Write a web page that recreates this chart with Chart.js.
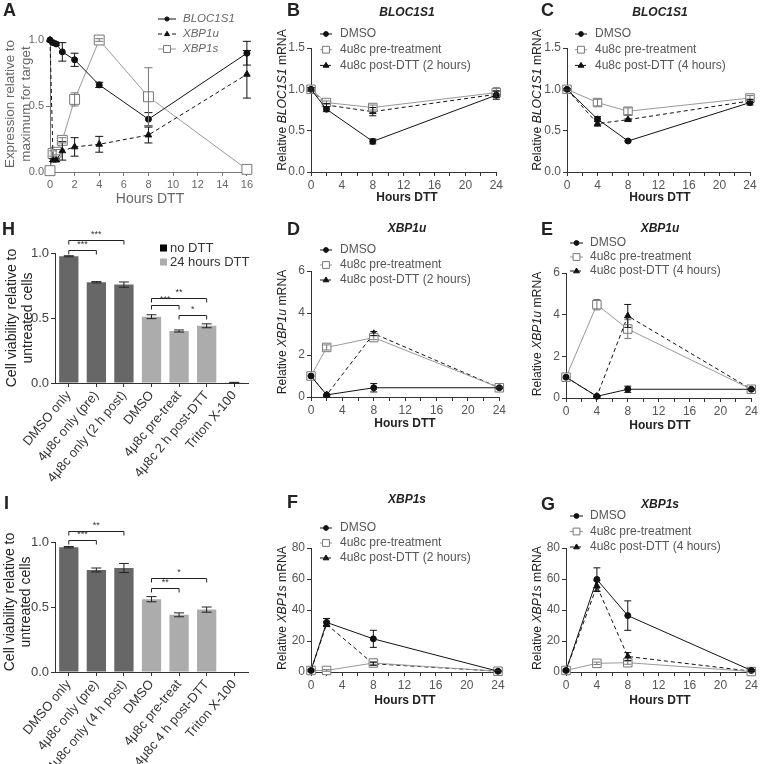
<!DOCTYPE html>
<html>
<head>
<meta charset="utf-8">
<script src="https://cdn.jsdelivr.net/npm/chart.js@4.4.0/dist/chart.umd.min.js"></script>
<style>
body{margin:0;background:#fff;font-family:"Liberation Sans",Arial,sans-serif;}
#fig{position:relative;width:760px;height:764px;overflow:hidden;}
canvas{position:absolute;}
.t{position:absolute;white-space:nowrap;color:#222;line-height:1;}
.lt{font-weight:bold;font-size:18px;}
.ttl{font-weight:bold;font-style:italic;font-size:12px;transform:translate(-50%,-50%);}
.xt{font-weight:bold;font-size:12px;transform:translate(-50%,-50%);}
.yt{font-size:12.2px;transform:translate(-50%,-50%) rotate(-90deg);}
</style>
</head>
<body>
<div id="fig">
  <canvas id="cA"></canvas><canvas id="cB"></canvas><canvas id="cC"></canvas>
  <canvas id="cH"></canvas><canvas id="cD"></canvas><canvas id="cE"></canvas>
  <canvas id="cI"></canvas><canvas id="cF"></canvas><canvas id="cG"></canvas>

  <div class="t lt" style="left:3px;top:1px">A</div>
  <div class="t lt" style="left:287px;top:1px">B</div>
  <div class="t lt" style="left:541px;top:1px">C</div>
  <div class="t lt" style="left:2px;top:220px">H</div>
  <div class="t lt" style="left:287px;top:220px">D</div>
  <div class="t lt" style="left:541px;top:220px">E</div>
  <div class="t lt" style="left:4px;top:494px">I</div>
  <div class="t lt" style="left:287px;top:493px">F</div>
  <div class="t lt" style="left:541px;top:495px">G</div>

  <div class="t ttl" style="left:407px;top:12px">BLOC1S1</div>
  <div class="t ttl" style="left:660px;top:12px">BLOC1S1</div>
  <div class="t ttl" style="left:407px;top:228px">XBP1u</div>
  <div class="t ttl" style="left:660px;top:228px">XBP1u</div>
  <div class="t ttl" style="left:407px;top:499px">XBP1s</div>
  <div class="t ttl" style="left:660px;top:504px">XBP1s</div>

  <div class="t" style="left:150px;top:198px;transform:translate(-50%,-50%);font-size:14px;color:#666">Hours DTT</div>
  <div class="t xt" style="left:407px;top:197px">Hours DTT</div>
  <div class="t xt" style="left:660px;top:197px">Hours DTT</div>
  <div class="t xt" style="left:405px;top:423px">Hours DTT</div>
  <div class="t xt" style="left:660px;top:425px">Hours DTT</div>
  <div class="t xt" style="left:405px;top:700px">Hours DTT</div>
  <div class="t xt" style="left:660px;top:700px">Hours DTT</div>

  <div class="t" style="left:18px;top:104px;transform:translate(-50%,-50%) rotate(-90deg);font-size:13.4px;color:#666;text-align:center;line-height:1.2">Expression relative to<br>maximum for target</div>
  <div class="t yt" style="left:282px;top:100px">Relative <i>BLOC1S1</i> mRNA</div>
  <div class="t yt" style="left:537px;top:100px">Relative <i>BLOC1S1</i> mRNA</div>
  <div class="t yt" style="left:282px;top:332px">Relative <i>XBP1u</i> mRNA</div>
  <div class="t yt" style="left:537px;top:334px">Relative <i>XBP1u</i> mRNA</div>
  <div class="t yt" style="left:282px;top:608px">Relative <i>XBP1s</i> mRNA</div>
  <div class="t yt" style="left:537px;top:608px">Relative <i>XBP1s</i> mRNA</div>
  <div class="t" style="left:19px;top:318px;transform:translate(-50%,-50%) rotate(-90deg);font-size:14px;text-align:center;line-height:1.15">Cell viability relative to<br>untreated cells</div>
  <div class="t" style="left:17px;top:602px;transform:translate(-50%,-50%) rotate(-90deg);font-size:14px;text-align:center;line-height:1.15">Cell viability relative to<br>untreated cells</div>
</div>

<script>
// ---------- data ----------
const hoursA = [0, 0.25, 0.5, 1, 2, 4, 8, 16];
const blocA = [1.0, 0.98, 0.97, 0.91, 0.85, 0.66, 0.40, 0.90];
const blocAErr = [0, 0.01, 0.01, 0.07, 0.05, 0.02, 0.05, 0.09];
const xbp1uA = [1.0, 0.09, 0.09, 0.16, 0.19, 0.21, 0.28, 0.74];
const xbp1uAErr = [0, 0.01, 0.01, 0.07, 0.07, 0.06, 0.06, 0.18];
const xbp1sA = [0.01, 0.14, 0.15, 0.24, 0.55, 1.0, 0.57, 0.02];
const xbp1sAErr = [0, 0.02, 0.02, 0.02, 0.05, 0.01, 0.22, 0];

const hours2 = [0, 2, 8, 24];
const hours4 = [0, 4, 8, 24];

const bDmso = [1.0, 0.76, 0.37, 0.93], bDmsoErr = [0.02, 0.03, 0.03, 0.05];
const bPre = [1.0, 0.84, 0.78, 0.96], bPreErr = [0.02, 0.02, 0.03, 0.06];
const bPost = [1.0, 0.81, 0.73, 0.94], bPostErr = [0.02, 0.02, 0.05, 0.04];

const cDmso = [1.0, 0.64, 0.375, 0.84], cDmsoErr = [0.01, 0.03, 0.01, 0.03];
const cPre = [1.0, 0.84, 0.735, 0.895], cPreErr = [0.01, 0.04, 0.04, 0.03];
const cPost = [1.0, 0.585, 0.633, 0.86], cPostErr = [0.01, 0.03, 0.01, 0.02];

const dDmso = [1.0, 0.1, 0.44, 0.44], dDmsoErr = [0, 0.02, 0.2, 0.03];
const dPre = [1.0, 2.36, 2.83, 0.44], dPreErr = [0, 0.12, 0.1, 0.03];
const dPost = [1.0, 0.1, 3.02, 0.44], dPostErr = [0, 0.02, 0.1, 0.03];

const eDmso = [1.0, 0.08, 0.42, 0.42], eDmsoErr = [0, 0.02, 0.15, 0.03];
const ePre = [1.0, 4.48, 3.31, 0.42], ePreErr = [0, 0.25, 0.45, 0.03];
const ePost = [1.0, 0.08, 3.94, 0.42], ePostErr = [0, 0.02, 0.55, 0.03];

const fDmso = [1, 32, 21.4, 0.5], fDmsoErr = [0.5, 2.5, 5.5, 0.5];
const fPre = [1, 1, 5.8, 0.5], fPreErr = [0, 0.5, 0.8, 0.2];
const fPost = [1, 30.8, 5.3, 0.5], fPostErr = [0, 1.5, 1, 0.2];

const gDmso = [1, 59.7, 36.4, 1], gDmsoErr = [0.5, 7.5, 9.5, 0.5];
const gPre = [1, 5.6, 6, 0.3], gPreErr = [0, 0.8, 1.0, 0.2];
const gPost = [1, 55.4, 10, 0.5], gPostErr = [0, 3.5, 2.5, 0.2];

const labelsH = ['DMSO only', '4\u03bc8c only (pre)', '4\u03bc8c only (2 h post)', 'DMSO', '4\u03bc8c pre-treat', '4\u03bc8c 2 h post-DTT', 'Triton X-100'];
const viabH = [0.975, 0.775, 0.757, 0.51, 0.40, 0.44, 0.003];
const viabHErr = [0.004, 0.005, 0.02, 0.015, 0.008, 0.015, 0.002];
const sigH = [
  {from: 0, to: 2, y: 1.10, label: '***'}, {from: 0, to: 1, y: 1.025, label: '***'},
  {from: 3, to: 5, y: 0.655, label: '**'}, {from: 3, to: 4, y: 0.60, label: '***'},
  {from: 4, to: 5, y: 0.525, label: '*'}
];

const labelsI = ['DMSO only', '4\u03bc8c only (pre)', '4\u03bc8c only (4 h post)', 'DMSO', '4\u03bc8c pre-treat', '4\u03bc8c 4 h post-DTT', 'Triton X-100'];
const viabI = [0.96, 0.785, 0.80, 0.56, 0.44, 0.48, 0];
const viabIErr = [0.005, 0.015, 0.035, 0.02, 0.015, 0.02, 0];
const sigI = [
  {from: 0, to: 2, y: 1.085, label: '**'}, {from: 0, to: 1, y: 1.015, label: '***'},
  {from: 3, to: 5, y: 0.72, label: '*'}, {from: 3, to: 4, y: 0.65, label: '**'}
];

const barColors = ['#676767', '#676767', '#676767', '#acacac', '#acacac', '#acacac', '#676767'];

Chart.defaults.font.family = "'Liberation Sans', Arial, sans-serif";

// ---------- plugins ----------
function marker(ctx, style, r, x, y) {
  ctx.beginPath();
  if (style === 'circle') {
    ctx.arc(x, y, r, 0, Math.PI * 2);
  } else if (style === 'rect') {
    const s = r * Math.SQRT1_2;
    ctx.rect(x - s, y - s, 2 * s, 2 * s);
  } else {
    ctx.moveTo(x, y - r);
    ctx.lineTo(x + r * 0.95, y + r * 0.6);
    ctx.lineTo(x - r * 0.95, y + r * 0.6);
    ctx.closePath();
  }
  ctx.fill();
  ctx.stroke();
}

const errorBars = {
  id: 'errorBars',
  afterDatasetsDraw(chart) {
    const ctx = chart.ctx, ys = chart.scales.y;
    chart.data.datasets.forEach((ds, di) => {
      if (!ds.errors) return;
      const meta = chart.getDatasetMeta(di);
      ctx.save();
      ctx.strokeStyle = ds.errColor || ds.borderColor;
      ctx.lineWidth = 1;
      meta.data.forEach((el, i) => {
        const e = ds.errors[i];
        if (!e) return;
        const v = typeof ds.data[i] === 'object' ? ds.data[i].y : ds.data[i];
        const x = el.x, y1 = ys.getPixelForValue(v + e), y2 = ys.getPixelForValue(v - e);
        const w = ds.cap || 3.5;
        ctx.beginPath();
        ctx.moveTo(x, y1); ctx.lineTo(x, y2);
        ctx.moveTo(x - w, y1); ctx.lineTo(x + w, y1);
        ctx.moveTo(x - w, y2); ctx.lineTo(x + w, y2);
        ctx.stroke();
      });
      ctx.restore();
    });
  }
};

const sideLegend = {
  id: 'sideLegend',
  afterDraw(chart, args, o) {
    if (!o || o.x === undefined) return;
    const ctx = chart.ctx;
    ctx.save();
    ctx.font = (o.italic ? 'italic ' : '') + o.size + "px 'Liberation Sans', Arial, sans-serif";
    ctx.textBaseline = 'middle';
    chart.data.datasets.forEach((ds, i) => {
      const y = o.y + i * o.dy;
      ctx.strokeStyle = ds.borderColor;
      ctx.lineWidth = 1;
      ctx.setLineDash(ds.borderDash || []);
      ctx.beginPath(); ctx.moveTo(o.x, y); ctx.lineTo(o.x + o.len, y); ctx.stroke();
      ctx.setLineDash([]);
      ctx.fillStyle = ds.pointBackgroundColor;
      ctx.strokeStyle = ds.pointBorderColor;
      marker(ctx, ds.pointStyle, ds.pointRadius * (o.scale || 0.8), o.x + o.len / 2, y);
      ctx.fillStyle = o.color || '#555';
      ctx.fillText(ds.label, o.x + o.len + o.gap, y);
    });
    ctx.restore();
  }
};

const sigBrackets = {
  id: 'sigBrackets',
  afterDraw(chart, args, o) {
    if (!o || !o.items) return;
    const ctx = chart.ctx, xs = chart.scales.x, ys = chart.scales.y;
    ctx.save();
    ctx.strokeStyle = '#222';
    ctx.fillStyle = '#333';
    ctx.lineWidth = 1;
    ctx.font = "9px 'Liberation Sans', Arial, sans-serif";
    ctx.textAlign = 'center';
    ctx.textBaseline = 'bottom';
    o.items.forEach(b => {
      const x1 = xs.getPixelForValue(b.from), x2 = xs.getPixelForValue(b.to);
      const y = Math.round(ys.getPixelForValue(b.y)) + 0.5;
      ctx.beginPath();
      ctx.moveTo(x1, y + 4); ctx.lineTo(x1, y); ctx.lineTo(x2, y); ctx.lineTo(x2, y + 4);
      ctx.stroke();
      ctx.fillText(b.label, (x1 + x2) / 2, y - 1);
    });
    ctx.restore();
  }
};

const barLegend = {
  id: 'barLegend',
  afterDraw(chart, args, o) {
    if (!o || o.x === undefined) return;
    const ctx = chart.ctx;
    ctx.save();
    ctx.font = "13px 'Liberation Sans', Arial, sans-serif";
    ctx.textBaseline = 'middle';
    o.names.forEach((n, i) => {
      const y = o.y + i * o.dy;
      ctx.fillStyle = o.colors[i];
      ctx.fillRect(o.x, y - 3.5, 7, 7);
      ctx.fillStyle = '#333';
      ctx.fillText(n, o.x + 10, y);
    });
    ctx.restore();
  }
};

// ---------- helpers ----------
function place(id, box) {
  const cv = document.getElementById(id);
  cv.width = box.w; cv.height = box.h;
  cv.style.left = box.x + 'px'; cv.style.top = box.y + 'px';
  return cv;
}

function pts(xs, ys) { return xs.map((x, i) => ({x: x, y: ys[i]})); }

const dmsoStyle = {borderColor: '#111', pointBackgroundColor: '#111', pointBorderColor: '#111', pointStyle: 'circle', pointRadius: 3};
const preStyle = {borderColor: '#999', pointBackgroundColor: '#fff', pointBorderColor: '#777', pointStyle: 'rect', pointRadius: 6, errColor: '#777'};
const postStyle = {borderColor: '#111', borderDash: [4, 3], pointBackgroundColor: '#111', pointBorderColor: '#111', pointStyle: 'triangle', pointRadius: 3.8};

function ds(label, style, xs, ys, errs, extra) {
  return Object.assign({label: label, data: pts(xs, ys), errors: errs, borderWidth: 1, pointBorderWidth: 1,
    tension: 0, clip: false}, style, extra || {});
}

function linePanel(id, box, area, sets, sc, leg) {
  const XH = 22;
  const axisCol = sc.axisCol || '#333';
  new Chart(place(id, box), {
    type: 'line',
    data: {datasets: sets},
    options: {
      responsive: false, animation: false,
      layout: {padding: {top: area.t - box.y, right: box.x + box.w - area.r, bottom: box.y + box.h - area.b - XH, left: 0}},
      plugins: {legend: {display: false}, tooltip: {enabled: false}, sideLegend: leg},
      scales: {
        x: {
          type: 'linear', min: 0, max: sc.xmax,
          afterFit: s => { s.height = XH; },
          grid: {drawOnChartArea: false, tickLength: 4, color: axisCol},
          border: {color: axisCol},
          ticks: {stepSize: 2, autoSkip: false, maxRotation: 0, padding: 2, color: sc.tickCol || '#555', font: {size: sc.tickSize || 12},
            callback: v => (sc.every2 || v % 4 === 0) ? v : ''}
        },
        y: {
          min: 0, max: sc.ymax,
          afterFit: s => { s.width = area.l - box.x; },
          grid: {drawOnChartArea: false, tickLength: 4, color: axisCol},
          border: {color: axisCol},
          ticks: {stepSize: sc.ystep, padding: 2, color: sc.tickCol || '#555', font: {size: sc.tickSize || 12},
            callback: v => sc.dec ? v.toFixed(1) : v}
        }
      }
    },
    plugins: [errorBars, sideLegend]
  });
}

function barPanel(id, box, area, labels, vals, errs, sig, leg) {
  const XH = box.y + box.h - area.b;
  new Chart(place(id, box), {
    type: 'bar',
    data: {labels: labels, datasets: [{data: vals, errors: errs, backgroundColor: barColors, borderColor: '#222',
      borderWidth: 0, barPercentage: 0.7, categoryPercentage: 1, cap: 5, errColor: '#222'}]},
    options: {
      responsive: false, animation: false,
      layout: {padding: {top: area.t - box.y, right: box.x + box.w - area.r, bottom: 0, left: 0}},
      plugins: {legend: {display: false}, tooltip: {enabled: false}, sigBrackets: {items: sig}, barLegend: leg},
      scales: {
        x: {
          afterFit: s => { s.height = XH; },
          grid: {drawOnChartArea: false, offset: false, tickLength: 4, color: '#333'},
          border: {color: '#333'},
          ticks: {autoSkip: false, minRotation: 50, maxRotation: 50, padding: 1, color: '#333', font: {size: 13}}
        },
        y: {
          min: 0, max: 1,
          afterFit: s => { s.width = area.l - box.x; },
          grid: {drawOnChartArea: false, tickLength: 4, color: '#333'},
          border: {color: '#333'},
          ticks: {stepSize: 0.5, padding: 2, color: '#444', font: {size: 13}, callback: v => v.toFixed(1)}
        }
      }
    },
    plugins: [errorBars, sigBrackets, barLegend]
  });
}

// ---------- panel A ----------
linePanel('cA', {x: 0, y: 0, w: 255, h: 210}, {l: 50, t: 40, r: 248, b: 172}, [
  ds('BLOC1S1', dmsoStyle, hoursA, blocA, blocAErr, {cap: 4}),
  ds('XBP1u', postStyle, hoursA, xbp1uA, xbp1uAErr, {cap: 4}),
  ds('XBP1s', preStyle, hoursA, xbp1sA, xbp1sAErr, {pointRadius: 7, cap: 4})
], {xmax: 16, ymax: 1, ystep: 0.5, dec: true, every2: true, tickSize: 11, tickCol: '#666', axisCol: '#777'},
  {x: 158, y: 19, dy: 15, len: 18, gap: 7, size: 11.5, italic: true, color: '#666', scale: 0.7});

// ---------- panels B, C ----------
linePanel('cB', {x: 250, y: 0, w: 255, h: 210}, {l: 311, t: 48, r: 497, b: 172}, [
  ds('DMSO', dmsoStyle, hours2, bDmso, bDmsoErr),
  ds('4u8c pre-treatment', preStyle, hours2, bPre, bPreErr),
  ds('4u8c post-DTT (2 hours)', postStyle, hours2, bPost, bPostErr)
], {xmax: 24, ymax: 1.5, ystep: 0.5, dec: true}, {x: 70, y: 34, dy: 15.7, len: 12, gap: 8, size: 12});

linePanel('cC', {x: 505, y: 0, w: 255, h: 210}, {l: 567, t: 48, r: 750, b: 172}, [
  ds('DMSO', dmsoStyle, hours4, cDmso, cDmsoErr),
  ds('4u8c pre-treatment', preStyle, hours4, cPre, cPreErr),
  ds('4u8c post-DTT (4 hours)', postStyle, hours4, cPost, cPostErr)
], {xmax: 24, ymax: 1.5, ystep: 0.5, dec: true}, {x: 70, y: 34, dy: 15.7, len: 12, gap: 8, size: 12});

// ---------- panels D, E ----------
linePanel('cD', {x: 250, y: 235, w: 258, h: 215}, {l: 311, t: 271, r: 501, b: 397}, [
  ds('DMSO', dmsoStyle, hours2, dDmso, dDmsoErr),
  ds('4u8c pre-treatment', preStyle, hours2, dPre, dPreErr),
  ds('4u8c post-DTT (2 hours)', postStyle, hours2, dPost, dPostErr)
], {xmax: 24, ymax: 6, ystep: 2}, {x: 70, y: 15, dy: 15, len: 12, gap: 8, size: 12});

linePanel('cE', {x: 505, y: 235, w: 255, h: 215}, {l: 566, t: 273, r: 752, b: 398}, [
  ds('DMSO', dmsoStyle, hours4, eDmso, eDmsoErr),
  ds('4u8c pre-treatment', preStyle, hours4, ePre, ePreErr),
  ds('4u8c post-DTT (4 hours)', postStyle, hours4, ePost, ePostErr)
], {xmax: 24, ymax: 6, ystep: 2}, {x: 65, y: 8, dy: 14, len: 13, gap: 7, size: 12});

// ---------- panels F, G ----------
linePanel('cF', {x: 250, y: 505, w: 258, h: 259}, {l: 311, t: 548, r: 498, b: 672}, [
  ds('DMSO', dmsoStyle, hours2, fDmso, fDmsoErr),
  ds('4u8c pre-treatment', preStyle, hours2, fPre, fPreErr),
  ds('4u8c post-DTT (2 hours)', postStyle, hours2, fPost, fPostErr)
], {xmax: 24, ymax: 80, ystep: 20}, {x: 70, y: 23, dy: 15, len: 12, gap: 8, size: 12});

linePanel('cG', {x: 505, y: 505, w: 255, h: 259}, {l: 566, t: 548, r: 752, b: 672}, [
  ds('DMSO', dmsoStyle, hours4, gDmso, gDmsoErr),
  ds('4u8c pre-treatment', preStyle, hours4, gPre, gPreErr),
  ds('4u8c post-DTT (4 hours)', postStyle, hours4, gPost, gPostErr)
], {xmax: 24, ymax: 80, ystep: 20}, {x: 65, y: 11, dy: 15.5, len: 13, gap: 7, size: 12});

// ---------- bar panels H, I ----------
barPanel('cH', {x: 0, y: 205, w: 255, h: 295}, {l: 55, t: 253, r: 248, b: 383}, labelsH, viabH, viabHErr, sigH,
  {x: 160, y: 43, dy: 14, names: ['no DTT', '24 hours DTT'], colors: ['#000', '#acacac']});

barPanel('cI', {x: 0, y: 505, w: 255, h: 259}, {l: 55, t: 542, r: 248, b: 672}, labelsI, viabI, viabIErr, sigI, {});
</script>
</body>
</html>
